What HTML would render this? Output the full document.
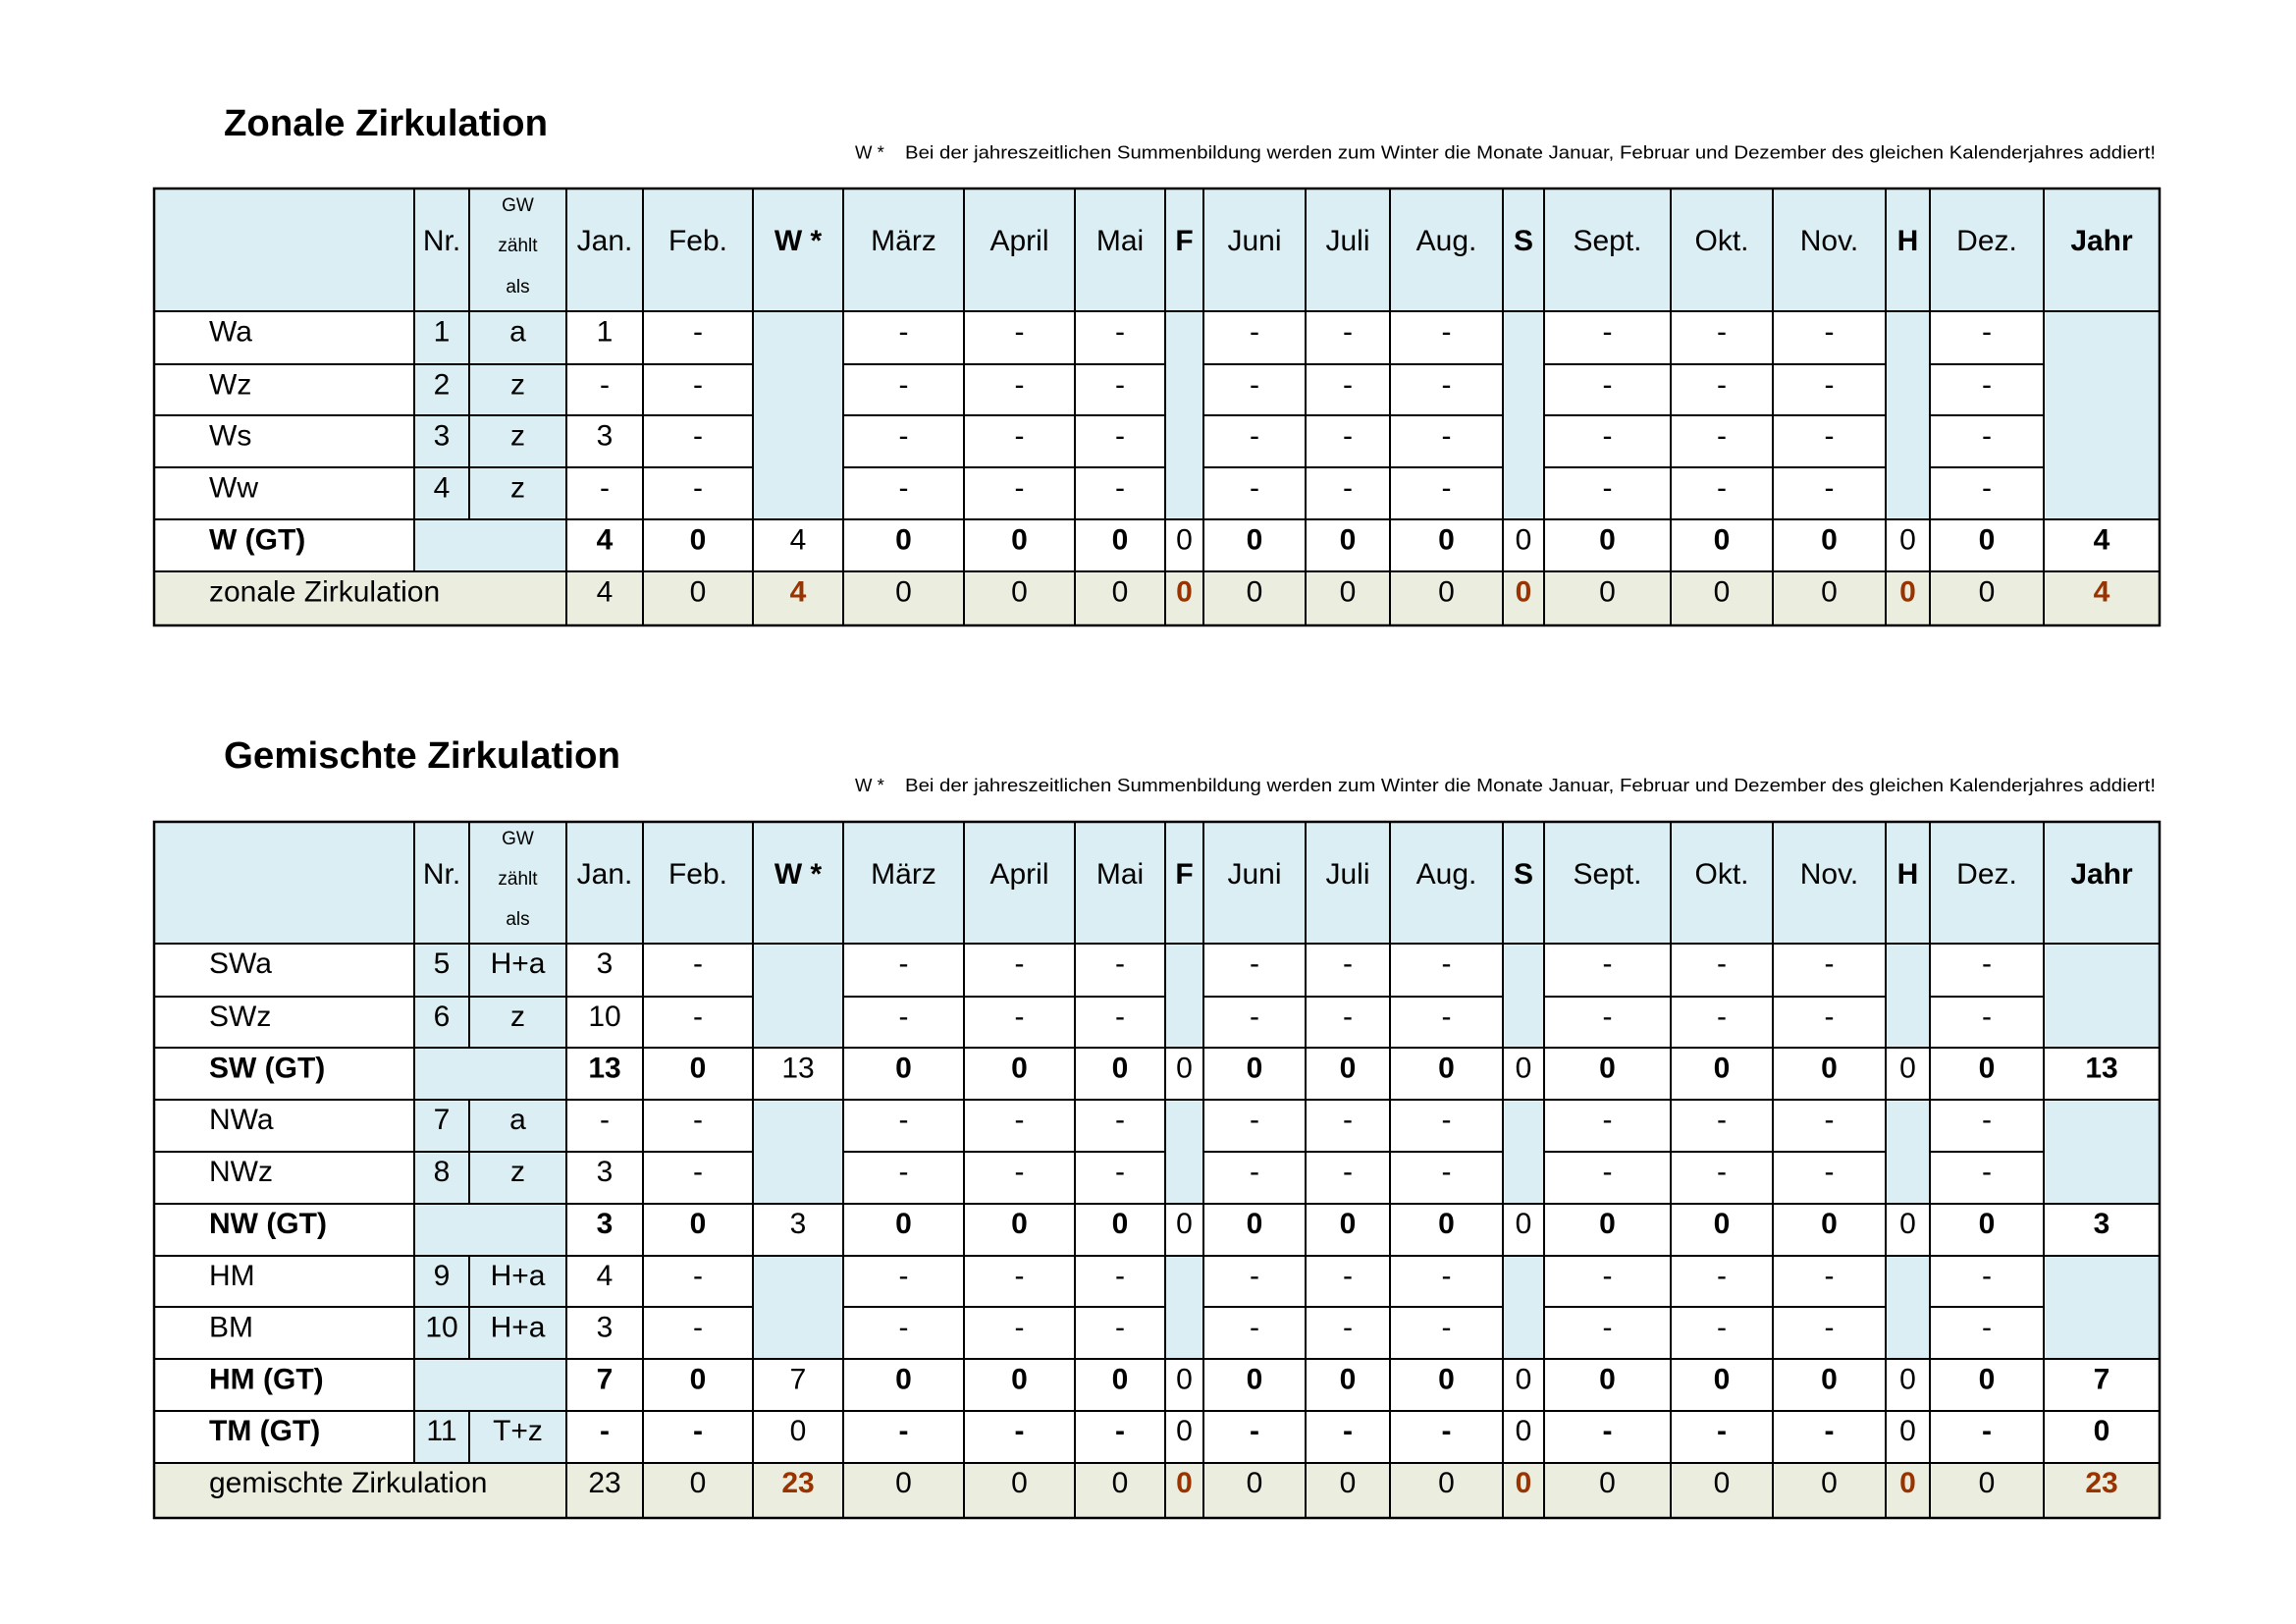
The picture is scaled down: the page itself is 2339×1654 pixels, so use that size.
<!DOCTYPE html>
<html><head><meta charset="utf-8"><style>
html,body{margin:0;padding:0;background:#fff;}
svg{display:block;}
text{font-family:"Liberation Sans",Arial,sans-serif;font-size:30px;fill:#000;}
.c{text-anchor:middle;}
.b{font-weight:bold;}
.br{font-weight:bold;fill:#993300;}
.sm{font-size:19px;}
.title{font-size:38px;font-weight:bold;}
.note{font-size:18.5px;}
</style></head><body>
<svg width="2339" height="1654" viewBox="0 0 2339 1654" xmlns="http://www.w3.org/2000/svg">
<rect x="0" y="0" width="2339" height="1654" fill="#fff"/>

<!-- ================= TABLE 1 ================= -->
<text class="title" x="228" y="138" textLength="330" lengthAdjust="spacingAndGlyphs">Zonale Zirkulation</text>
<text class="note" x="871" y="161.5">W *</text>
<text class="note" x="922" y="161.5" textLength="1274" lengthAdjust="spacingAndGlyphs">Bei der jahreszeitlichen Summenbildung werden zum Winter die Monate Januar, Februar und Dezember des gleichen Kalenderjahres addiert!</text>

<g fill="#DAEEF3">
<rect x="157" y="192" width="2043" height="125"/>
<rect x="422" y="317" width="155" height="265"/>
<rect x="767" y="317" width="92" height="212"/>
<rect x="1187" y="317" width="39" height="212"/>
<rect x="1531" y="317" width="42" height="212"/>
<rect x="1921" y="317" width="45" height="212"/>
<rect x="2082" y="317" width="118" height="212"/>
</g>
<rect x="157" y="582" width="2043" height="55" fill="#EBEEDF"/>

<g stroke="#000" stroke-width="2" fill="none">
<line x1="157" y1="317" x2="2200" y2="317"/>
<path d="M157 371H767M859 371H1187M1226 371H1531M1573 371H1921M1966 371H2082"/>
<path d="M157 423H767M859 423H1187M1226 423H1531M1573 423H1921M1966 423H2082"/>
<path d="M157 476H767M859 476H1187M1226 476H1531M1573 476H1921M1966 476H2082"/>
<line x1="157" y1="529" x2="2200" y2="529"/>
<line x1="157" y1="582" x2="2200" y2="582"/>
<line x1="422" y1="192" x2="422" y2="582"/>
<line x1="478" y1="192" x2="478" y2="529"/>
<path d="M577 192V637M655 192V637M767 192V637M859 192V637M982 192V637M1095 192V637M1187 192V637M1226 192V637M1330 192V637M1416 192V637M1531 192V637M1573 192V637M1702 192V637M1806 192V637M1921 192V637M1966 192V637M2082 192V637"/>
<rect x="157" y="192" width="2043" height="445" stroke-width="2.5"/>
</g>

<!-- header -->
<g>
<text class="c" x="450" y="255">Nr.</text>
<text class="c sm" x="527.5" y="215">GW</text>
<text class="c sm" x="527.5" y="256">zählt</text>
<text class="c sm" x="527.5" y="298">als</text>
<text class="c" x="616" y="255">Jan.</text>
<text class="c" x="711" y="255">Feb.</text>
<text class="c b" x="813" y="255">W *</text>
<text class="c" x="920.5" y="255">März</text>
<text class="c" x="1038.5" y="255">April</text>
<text class="c" x="1141" y="255">Mai</text>
<text class="c b" x="1206.5" y="255">F</text>
<text class="c" x="1278" y="255">Juni</text>
<text class="c" x="1373" y="255">Juli</text>
<text class="c" x="1473.5" y="255">Aug.</text>
<text class="c b" x="1552" y="255">S</text>
<text class="c" x="1637.5" y="255">Sept.</text>
<text class="c" x="1754" y="255">Okt.</text>
<text class="c" x="1863.5" y="255">Nov.</text>
<text class="c b" x="1943.5" y="255">H</text>
<text class="c" x="2024" y="255">Dez.</text>
<text class="c b" x="2141" y="255">Jahr</text>
</g>

<g transform="translate(0,347.5)">
<text x="213" y="0">Wa</text><text class="c" x="450" y="0">1</text><text class="c" x="527.5" y="0">a</text>
<text class="c" x="616" y="0">1</text><text class="c" x="711" y="0">-</text><text class="c" x="920.5" y="0">-</text><text class="c" x="1038.5" y="0">-</text><text class="c" x="1141" y="0">-</text><text class="c" x="1278" y="0">-</text><text class="c" x="1373" y="0">-</text><text class="c" x="1473.5" y="0">-</text><text class="c" x="1637.5" y="0">-</text><text class="c" x="1754" y="0">-</text><text class="c" x="1863.5" y="0">-</text><text class="c" x="2024" y="0">-</text>
</g>
<g transform="translate(0,401.5)">
<text x="213" y="0">Wz</text><text class="c" x="450" y="0">2</text><text class="c" x="527.5" y="0">z</text>
<text class="c" x="616" y="0">-</text><text class="c" x="711" y="0">-</text><text class="c" x="920.5" y="0">-</text><text class="c" x="1038.5" y="0">-</text><text class="c" x="1141" y="0">-</text><text class="c" x="1278" y="0">-</text><text class="c" x="1373" y="0">-</text><text class="c" x="1473.5" y="0">-</text><text class="c" x="1637.5" y="0">-</text><text class="c" x="1754" y="0">-</text><text class="c" x="1863.5" y="0">-</text><text class="c" x="2024" y="0">-</text>
</g>
<g transform="translate(0,453.5)">
<text x="213" y="0">Ws</text><text class="c" x="450" y="0">3</text><text class="c" x="527.5" y="0">z</text>
<text class="c" x="616" y="0">3</text><text class="c" x="711" y="0">-</text><text class="c" x="920.5" y="0">-</text><text class="c" x="1038.5" y="0">-</text><text class="c" x="1141" y="0">-</text><text class="c" x="1278" y="0">-</text><text class="c" x="1373" y="0">-</text><text class="c" x="1473.5" y="0">-</text><text class="c" x="1637.5" y="0">-</text><text class="c" x="1754" y="0">-</text><text class="c" x="1863.5" y="0">-</text><text class="c" x="2024" y="0">-</text>
</g>
<g transform="translate(0,506.5)">
<text x="213" y="0">Ww</text><text class="c" x="450" y="0">4</text><text class="c" x="527.5" y="0">z</text>
<text class="c" x="616" y="0">-</text><text class="c" x="711" y="0">-</text><text class="c" x="920.5" y="0">-</text><text class="c" x="1038.5" y="0">-</text><text class="c" x="1141" y="0">-</text><text class="c" x="1278" y="0">-</text><text class="c" x="1373" y="0">-</text><text class="c" x="1473.5" y="0">-</text><text class="c" x="1637.5" y="0">-</text><text class="c" x="1754" y="0">-</text><text class="c" x="1863.5" y="0">-</text><text class="c" x="2024" y="0">-</text>
</g>
<g transform="translate(0,559.5)">
<text class="b" x="213" y="0">W (GT)</text>
<text class="c b" x="616" y="0">4</text><text class="c b" x="711" y="0">0</text><text class="c" x="813" y="0">4</text><text class="c b" x="920.5" y="0">0</text><text class="c b" x="1038.5" y="0">0</text><text class="c b" x="1141" y="0">0</text><text class="c" x="1206.5" y="0">0</text><text class="c b" x="1278" y="0">0</text><text class="c b" x="1373" y="0">0</text><text class="c b" x="1473.5" y="0">0</text><text class="c" x="1552" y="0">0</text><text class="c b" x="1637.5" y="0">0</text><text class="c b" x="1754" y="0">0</text><text class="c b" x="1863.5" y="0">0</text><text class="c" x="1943.5" y="0">0</text><text class="c b" x="2024" y="0">0</text><text class="c b" x="2141" y="0">4</text>
</g>
<g transform="translate(0,612.5)">
<text x="213" y="0">zonale Zirkulation</text>
<text class="c" x="616" y="0">4</text><text class="c" x="711" y="0">0</text><text class="c br" x="813" y="0">4</text><text class="c" x="920.5" y="0">0</text><text class="c" x="1038.5" y="0">0</text><text class="c" x="1141" y="0">0</text><text class="c br" x="1206.5" y="0">0</text><text class="c" x="1278" y="0">0</text><text class="c" x="1373" y="0">0</text><text class="c" x="1473.5" y="0">0</text><text class="c br" x="1552" y="0">0</text><text class="c" x="1637.5" y="0">0</text><text class="c" x="1754" y="0">0</text><text class="c" x="1863.5" y="0">0</text><text class="c br" x="1943.5" y="0">0</text><text class="c" x="2024" y="0">0</text><text class="c br" x="2141" y="0">4</text>
</g>

<!-- ================= TABLE 2 ================= -->
<text class="title" x="228" y="782" textLength="404" lengthAdjust="spacingAndGlyphs">Gemischte Zirkulation</text>
<text class="note" x="871" y="806">W *</text>
<text class="note" x="922" y="806" textLength="1274" lengthAdjust="spacingAndGlyphs">Bei der jahreszeitlichen Summenbildung werden zum Winter die Monate Januar, Februar und Dezember des gleichen Kalenderjahres addiert!</text>

<g fill="#DAEEF3">
<rect x="157" y="837" width="2043" height="124"/>
<rect x="422" y="961" width="155" height="529"/>
<rect x="767" y="961" width="92" height="106"/><rect x="767" y="1120" width="92" height="106"/><rect x="767" y="1279" width="92" height="105"/>
<rect x="1187" y="961" width="39" height="106"/><rect x="1187" y="1120" width="39" height="106"/><rect x="1187" y="1279" width="39" height="105"/>
<rect x="1531" y="961" width="42" height="106"/><rect x="1531" y="1120" width="42" height="106"/><rect x="1531" y="1279" width="42" height="105"/>
<rect x="1921" y="961" width="45" height="106"/><rect x="1921" y="1120" width="45" height="106"/><rect x="1921" y="1279" width="45" height="105"/>
<rect x="2082" y="961" width="118" height="106"/><rect x="2082" y="1120" width="118" height="106"/><rect x="2082" y="1279" width="118" height="105"/>
</g>
<rect x="157" y="1490" width="2043" height="56" fill="#EBEEDF"/>

<g stroke="#000" stroke-width="2" fill="none">
<line x1="157" y1="961" x2="2200" y2="961"/>
<path d="M157 1015H767M859 1015H1187M1226 1015H1531M1573 1015H1921M1966 1015H2082"/>
<path d="M157 1173H767M859 1173H1187M1226 1173H1531M1573 1173H1921M1966 1173H2082"/>
<path d="M157 1331H767M859 1331H1187M1226 1331H1531M1573 1331H1921M1966 1331H2082"/>
<path d="M157 1067H2200M157 1120H2200M157 1226H2200M157 1279H2200M157 1384H2200M157 1437H2200M157 1490H2200"/>
<line x1="422" y1="837" x2="422" y2="1490"/>
<path d="M478 837V1067M478 1120V1226M478 1279V1384M478 1437V1490"/>
<path d="M577 837V1546M655 837V1546M767 837V1546M859 837V1546M982 837V1546M1095 837V1546M1187 837V1546M1226 837V1546M1330 837V1546M1416 837V1546M1531 837V1546M1573 837V1546M1702 837V1546M1806 837V1546M1921 837V1546M1966 837V1546M2082 837V1546"/>
<rect x="157" y="837" width="2043" height="709" stroke-width="2.5"/>
</g>

<g>
<text class="c" x="450" y="900">Nr.</text>
<text class="c sm" x="527.5" y="860">GW</text>
<text class="c sm" x="527.5" y="901">zählt</text>
<text class="c sm" x="527.5" y="942">als</text>
<text class="c" x="616" y="900">Jan.</text>
<text class="c" x="711" y="900">Feb.</text>
<text class="c b" x="813" y="900">W *</text>
<text class="c" x="920.5" y="900">März</text>
<text class="c" x="1038.5" y="900">April</text>
<text class="c" x="1141" y="900">Mai</text>
<text class="c b" x="1206.5" y="900">F</text>
<text class="c" x="1278" y="900">Juni</text>
<text class="c" x="1373" y="900">Juli</text>
<text class="c" x="1473.5" y="900">Aug.</text>
<text class="c b" x="1552" y="900">S</text>
<text class="c" x="1637.5" y="900">Sept.</text>
<text class="c" x="1754" y="900">Okt.</text>
<text class="c" x="1863.5" y="900">Nov.</text>
<text class="c b" x="1943.5" y="900">H</text>
<text class="c" x="2024" y="900">Dez.</text>
<text class="c b" x="2141" y="900">Jahr</text>
</g>

<g transform="translate(0,991)">
<text x="213" y="0">SWa</text><text class="c" x="450" y="0">5</text><text class="c" x="527.5" y="0">H+a</text>
<text class="c" x="616" y="0">3</text><text class="c" x="711" y="0">-</text><text class="c" x="920.5" y="0">-</text><text class="c" x="1038.5" y="0">-</text><text class="c" x="1141" y="0">-</text><text class="c" x="1278" y="0">-</text><text class="c" x="1373" y="0">-</text><text class="c" x="1473.5" y="0">-</text><text class="c" x="1637.5" y="0">-</text><text class="c" x="1754" y="0">-</text><text class="c" x="1863.5" y="0">-</text><text class="c" x="2024" y="0">-</text>
</g>
<g transform="translate(0,1045)">
<text x="213" y="0">SWz</text><text class="c" x="450" y="0">6</text><text class="c" x="527.5" y="0">z</text>
<text class="c" x="616" y="0">10</text><text class="c" x="711" y="0">-</text><text class="c" x="920.5" y="0">-</text><text class="c" x="1038.5" y="0">-</text><text class="c" x="1141" y="0">-</text><text class="c" x="1278" y="0">-</text><text class="c" x="1373" y="0">-</text><text class="c" x="1473.5" y="0">-</text><text class="c" x="1637.5" y="0">-</text><text class="c" x="1754" y="0">-</text><text class="c" x="1863.5" y="0">-</text><text class="c" x="2024" y="0">-</text>
</g>
<g transform="translate(0,1097.5)">
<text class="b" x="213" y="0">SW (GT)</text>
<text class="c b" x="616" y="0">13</text><text class="c b" x="711" y="0">0</text><text class="c" x="813" y="0">13</text><text class="c b" x="920.5" y="0">0</text><text class="c b" x="1038.5" y="0">0</text><text class="c b" x="1141" y="0">0</text><text class="c" x="1206.5" y="0">0</text><text class="c b" x="1278" y="0">0</text><text class="c b" x="1373" y="0">0</text><text class="c b" x="1473.5" y="0">0</text><text class="c" x="1552" y="0">0</text><text class="c b" x="1637.5" y="0">0</text><text class="c b" x="1754" y="0">0</text><text class="c b" x="1863.5" y="0">0</text><text class="c" x="1943.5" y="0">0</text><text class="c b" x="2024" y="0">0</text><text class="c b" x="2141" y="0">13</text>
</g>
<g transform="translate(0,1150)">
<text x="213" y="0">NWa</text><text class="c" x="450" y="0">7</text><text class="c" x="527.5" y="0">a</text>
<text class="c" x="616" y="0">-</text><text class="c" x="711" y="0">-</text><text class="c" x="920.5" y="0">-</text><text class="c" x="1038.5" y="0">-</text><text class="c" x="1141" y="0">-</text><text class="c" x="1278" y="0">-</text><text class="c" x="1373" y="0">-</text><text class="c" x="1473.5" y="0">-</text><text class="c" x="1637.5" y="0">-</text><text class="c" x="1754" y="0">-</text><text class="c" x="1863.5" y="0">-</text><text class="c" x="2024" y="0">-</text>
</g>
<g transform="translate(0,1203)">
<text x="213" y="0">NWz</text><text class="c" x="450" y="0">8</text><text class="c" x="527.5" y="0">z</text>
<text class="c" x="616" y="0">3</text><text class="c" x="711" y="0">-</text><text class="c" x="920.5" y="0">-</text><text class="c" x="1038.5" y="0">-</text><text class="c" x="1141" y="0">-</text><text class="c" x="1278" y="0">-</text><text class="c" x="1373" y="0">-</text><text class="c" x="1473.5" y="0">-</text><text class="c" x="1637.5" y="0">-</text><text class="c" x="1754" y="0">-</text><text class="c" x="1863.5" y="0">-</text><text class="c" x="2024" y="0">-</text>
</g>
<g transform="translate(0,1256)">
<text class="b" x="213" y="0">NW (GT)</text>
<text class="c b" x="616" y="0">3</text><text class="c b" x="711" y="0">0</text><text class="c" x="813" y="0">3</text><text class="c b" x="920.5" y="0">0</text><text class="c b" x="1038.5" y="0">0</text><text class="c b" x="1141" y="0">0</text><text class="c" x="1206.5" y="0">0</text><text class="c b" x="1278" y="0">0</text><text class="c b" x="1373" y="0">0</text><text class="c b" x="1473.5" y="0">0</text><text class="c" x="1552" y="0">0</text><text class="c b" x="1637.5" y="0">0</text><text class="c b" x="1754" y="0">0</text><text class="c b" x="1863.5" y="0">0</text><text class="c" x="1943.5" y="0">0</text><text class="c b" x="2024" y="0">0</text><text class="c b" x="2141" y="0">3</text>
</g>
<g transform="translate(0,1309)">
<text x="213" y="0">HM</text><text class="c" x="450" y="0">9</text><text class="c" x="527.5" y="0">H+a</text>
<text class="c" x="616" y="0">4</text><text class="c" x="711" y="0">-</text><text class="c" x="920.5" y="0">-</text><text class="c" x="1038.5" y="0">-</text><text class="c" x="1141" y="0">-</text><text class="c" x="1278" y="0">-</text><text class="c" x="1373" y="0">-</text><text class="c" x="1473.5" y="0">-</text><text class="c" x="1637.5" y="0">-</text><text class="c" x="1754" y="0">-</text><text class="c" x="1863.5" y="0">-</text><text class="c" x="2024" y="0">-</text>
</g>
<g transform="translate(0,1361.5)">
<text x="213" y="0">BM</text><text class="c" x="450" y="0">10</text><text class="c" x="527.5" y="0">H+a</text>
<text class="c" x="616" y="0">3</text><text class="c" x="711" y="0">-</text><text class="c" x="920.5" y="0">-</text><text class="c" x="1038.5" y="0">-</text><text class="c" x="1141" y="0">-</text><text class="c" x="1278" y="0">-</text><text class="c" x="1373" y="0">-</text><text class="c" x="1473.5" y="0">-</text><text class="c" x="1637.5" y="0">-</text><text class="c" x="1754" y="0">-</text><text class="c" x="1863.5" y="0">-</text><text class="c" x="2024" y="0">-</text>
</g>
<g transform="translate(0,1414.5)">
<text class="b" x="213" y="0">HM (GT)</text>
<text class="c b" x="616" y="0">7</text><text class="c b" x="711" y="0">0</text><text class="c" x="813" y="0">7</text><text class="c b" x="920.5" y="0">0</text><text class="c b" x="1038.5" y="0">0</text><text class="c b" x="1141" y="0">0</text><text class="c" x="1206.5" y="0">0</text><text class="c b" x="1278" y="0">0</text><text class="c b" x="1373" y="0">0</text><text class="c b" x="1473.5" y="0">0</text><text class="c" x="1552" y="0">0</text><text class="c b" x="1637.5" y="0">0</text><text class="c b" x="1754" y="0">0</text><text class="c b" x="1863.5" y="0">0</text><text class="c" x="1943.5" y="0">0</text><text class="c b" x="2024" y="0">0</text><text class="c b" x="2141" y="0">7</text>
</g>
<g transform="translate(0,1467)">
<text class="b" x="213" y="0">TM (GT)</text><text class="c" x="450" y="0">11</text><text class="c" x="527.5" y="0">T+z</text>
<text class="c b" x="616" y="0">-</text><text class="c b" x="711" y="0">-</text><text class="c" x="813" y="0">0</text><text class="c b" x="920.5" y="0">-</text><text class="c b" x="1038.5" y="0">-</text><text class="c b" x="1141" y="0">-</text><text class="c" x="1206.5" y="0">0</text><text class="c b" x="1278" y="0">-</text><text class="c b" x="1373" y="0">-</text><text class="c b" x="1473.5" y="0">-</text><text class="c" x="1552" y="0">0</text><text class="c b" x="1637.5" y="0">-</text><text class="c b" x="1754" y="0">-</text><text class="c b" x="1863.5" y="0">-</text><text class="c" x="1943.5" y="0">0</text><text class="c b" x="2024" y="0">-</text><text class="c b" x="2141" y="0">0</text>
</g>
<g transform="translate(0,1520)">
<text x="213" y="0">gemischte Zirkulation</text>
<text class="c" x="616" y="0">23</text><text class="c" x="711" y="0">0</text><text class="c br" x="813" y="0">23</text><text class="c" x="920.5" y="0">0</text><text class="c" x="1038.5" y="0">0</text><text class="c" x="1141" y="0">0</text><text class="c br" x="1206.5" y="0">0</text><text class="c" x="1278" y="0">0</text><text class="c" x="1373" y="0">0</text><text class="c" x="1473.5" y="0">0</text><text class="c br" x="1552" y="0">0</text><text class="c" x="1637.5" y="0">0</text><text class="c" x="1754" y="0">0</text><text class="c" x="1863.5" y="0">0</text><text class="c br" x="1943.5" y="0">0</text><text class="c" x="2024" y="0">0</text><text class="c br" x="2141" y="0">23</text>
</g>
</svg>
</body></html>
